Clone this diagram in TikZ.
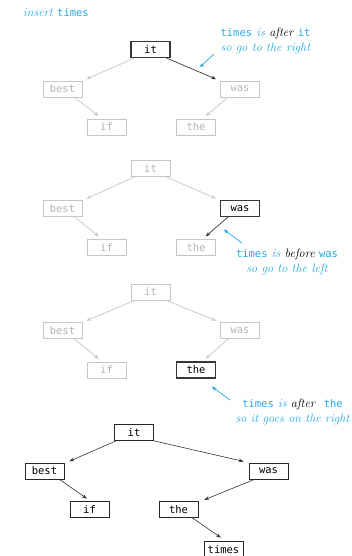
\documentclass[tikz,border=0pt]{standalone}
\usepackage{fontspec}
\setmonofont{DejaVu Sans Mono}
\usetikzlibrary{arrows.meta,calc}
\definecolor{anno}{RGB}{35,168,225}
\definecolor{faint}{RGB}{198,198,198}
\definecolor{faintt}{RGB}{180,180,180}
\definecolor{dark}{RGB}{55,55,55}
\tikzset{
  key/.style={draw, minimum width=39pt, minimum height=16pt, inner sep=0pt, font=\fontsize{10.5}{12}\ttfamily},
  fkey/.style={key, draw=faint, text=faintt, line width=0.8pt},
  hkey/.style={key, draw=dark, text=black, line width=1.1pt},
  nkey/.style={key, draw=black!85, text=black, line width=0.6pt},
  tip/.style={-{Stealth[length=5pt,width=3.6pt]}, shorten >=1pt},
  fedge/.style={tip, draw=faint, line width=0.7pt},
  hedge/.style={tip, draw=dark, line width=0.7pt},
  nedge/.style={tip, draw=black!80, line width=0.6pt},
  aedge/.style={tip, draw=anno, line width=0.7pt},
  note/.style={text=anno, align=center, inner sep=0pt, font=\fontsize{12.2}{15}\itshape},
}
\newcommand{\cw}[1]{{\upshape\ttfamily\fontsize{10.5}{12}\selectfont #1}}
\begin{document}
\begin{tikzpicture}[x=1pt,y=-1pt]
\useasboundingbox (0,0) rectangle (352,556);

% title
\node[note, anchor=west] (title) at (23,13) {insert \cw{times}};

% panel 1
\node[hkey] (a1) at (150.5,49.5) {it};
\node[fkey] (b1) at (62.5,89) {best};
\node[fkey] (c1) at (240,89) {was};
\node[fkey] (d1) at (106.5,127) {if};
\node[fkey] (e1) at (196,127) {the};
\draw[fedge] ($(a1.south west)+(4,0)$) -- ($(b1.north east)+(3,-1)$);
\draw[hedge] ($(a1.south east)+(-4,0)$) -- ($(c1.north west)+(-3,-1)$);
\draw[fedge] ($(b1.south east)+(-8,0)$) -- ($(d1.north west)+(13,-2)$);
\draw[fedge] ($(c1.south west)+(8,0)$) -- ($(e1.north east)+(-11,-2)$);
\node[note] (n1) at (265.5,40.5) {\cw{times} is {\color{black}after} \cw{it}\\so go to the right};
\coordinate (p1) at (214,54);
\coordinate (q1) at (199,68);
\draw[aedge] (p1) -- (q1);

% panel 2
\node[fkey] (a2) at (150.5,168.5) {it};
\node[fkey] (b2) at (62.5,208.5) {best};
\node[hkey] (c2) at (240,208.5) {was};
\node[fkey] (d2) at (106.5,247.5) {if};
\node[fkey] (e2) at (196,247.5) {the};
\draw[fedge] ($(a2.south west)+(4,0)$) -- ($(b2.north east)+(3,-1)$);
\draw[fedge] ($(a2.south east)+(-4,0)$) -- ($(c2.north west)+(-3,-1)$);
\draw[fedge] ($(b2.south east)+(-8,0)$) -- ($(d2.north west)+(13,-2)$);
\draw[hedge] ($(c2.south west)+(8,0)$) -- ($(e2.north east)+(-11,-2)$);
\node[note] (n2) at (287,262) {\cw{times} is {\color{black}before} \cw{was}\\so go to the left};
\coordinate (p2) at (242,243);
\coordinate (q2) at (223,229);
\draw[aedge] (p2) -- (q2);

% panel 3
\node[fkey] (a3) at (150.5,292) {it};
\node[fkey] (b3) at (62.5,330.5) {best};
\node[fkey] (c3) at (240,330.5) {was};
\node[fkey] (d3) at (106.5,370) {if};
\node[hkey] (e3) at (196,370) {the};
\draw[fedge] ($(a3.south west)+(4,0)$) -- ($(b3.north east)+(3,-1)$);
\draw[fedge] ($(a3.south east)+(-4,0)$) -- ($(c3.north west)+(-3,-1)$);
\draw[fedge] ($(b3.south east)+(-8,0)$) -- ($(d3.north west)+(13,-2)$);
\draw[fedge] ($(c3.south west)+(8,0)$) -- ($(e3.north east)+(-11,-2)$);
\node[note] (n3) at (292.5,411.5) {\cw{times} is {\color{black}after}\ \ \cw{the}\\so it goes on the right};
\coordinate (p3) at (230,400);
\coordinate (q3) at (211,386);
\draw[aedge] (p3) -- (q3);

% panel 4
\node[nkey] (a4) at (134,432.5) {it};
\node[nkey] (b4) at (44.5,471) {best};
\node[nkey] (c4) at (268.5,471) {was};
\node[nkey] (d4) at (89.5,509.5) {if};
\node[nkey] (e4) at (178.5,509.5) {the};
\node[nkey] (f4) at (223.5,549.5) {times};
\draw[nedge] ($(a4.south west)+(2,0)$) -- ($(b4.north east)+(4,-1)$);
\draw[nedge] ($(a4.south east)+(0,0)$) -- ($(c4.north west)+(-4,-1)$);
\draw[nedge] ($(b4.south east)+(-5,0)$) -- ($(d4.north west)+(18,-2)$);
\draw[nedge] ($(c4.south west)+(6,0)$) -- ($(e4.north east)+(5,-1)$);
\draw[nedge] ($(e4.south east)+(-6,0)$) -- ($(f4.north west)+(18,-3)$);
\end{tikzpicture}
\end{document}
